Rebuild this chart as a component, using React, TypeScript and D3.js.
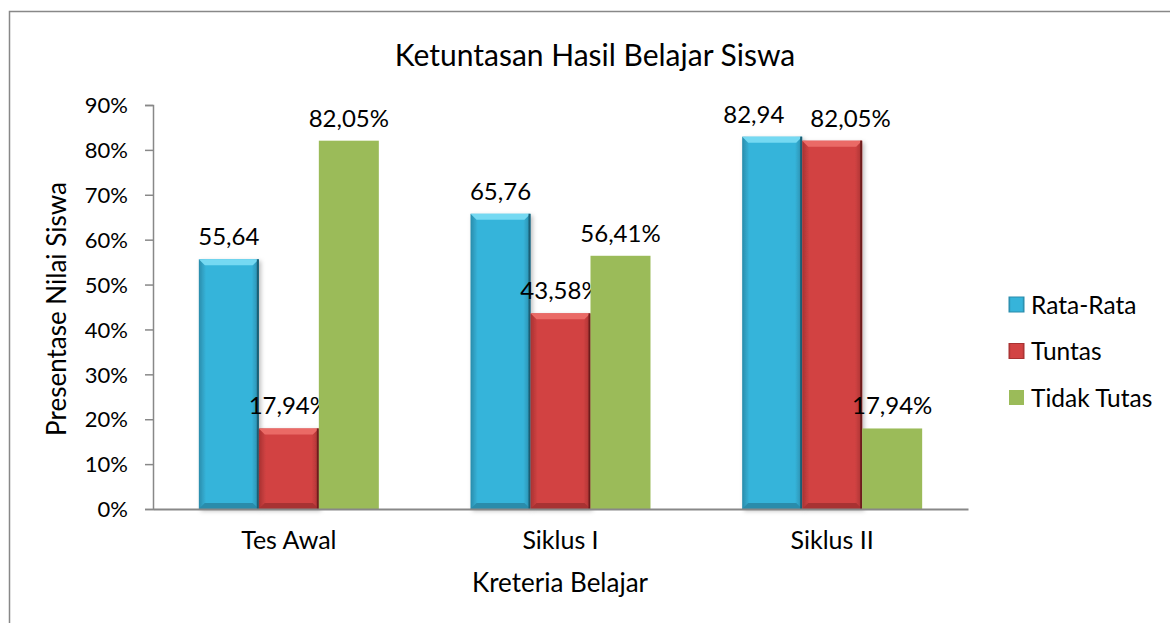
import { useEffect, useRef } from 'react';
import * as d3 from 'd3';

// Data
const kategori = ['Tes Awal', 'Siklus I', 'Siklus II'];
const seri = ['Rata-Rata', 'Tuntas', 'Tidak Tutas'];
const rataRata = [55.64, 65.76, 82.94];
const tuntas = [17.94, 43.58, 82.05];
const tidakTutas = [82.05, 56.41, 17.94];
const labelRataRata = ['55,64', '65,76', '82,94'];
const labelTuntas = ['17,94%', '43,58%', '82,05%'];
const labelTidakTutas = ['82,05%', '56,41%', '17,94%'];
const yTicks = [0, 10, 20, 30, 40, 50, 60, 70, 80, 90];

const W = 1170;
const H = 623;
const FONT = 'Lato, Calibri, sans-serif';

// warna per seri: utama, terang (bevel atas), gelap (sisi)
const warna = [
  { main: '#36b4da', light: '#74d9f2', dark: '#2a8cab', edge: '#1d5f74', bevel: true },
  { main: '#d24343', light: '#ea6a66', dark: '#a83232', edge: '#6e1f1f', bevel: true },
  { main: '#9bbb59', light: '#9bbb59', dark: '#9bbb59', edge: '#9bbb59', bevel: false },
];

export default function App() {
  const ref = useRef<SVGSVGElement>(null);

  useEffect(() => {
    const svg = d3.select(ref.current);
    svg.selectAll('*').remove();

    const margin = { top: 105, left: 153, right: 202, bottom: 114 };
    const x0 = d3.scaleBand().domain(kategori).range([margin.left, W - margin.right]).paddingInner(0).paddingOuter(0);
    const x1 = d3.scaleBand().domain(seri).range([0, x0.bandwidth()]).paddingOuter(0.764);
    const y = d3.scaleLinear().domain([0, 90]).range([H - margin.bottom, margin.top]);

    const nilai = [rataRata, tuntas, tidakTutas];
    const label = [labelRataRata, labelTuntas, labelTidakTutas];

    const defs = svg.append('defs');
    defs.append('filter').attr('id', 'bayangan').attr('x', '-20%').attr('y', '-10%').attr('width', '150%').attr('height', '130%')
      .append('feDropShadow').attr('dx', 2).attr('dy', 2).attr('stdDeviation', 2).attr('flood-color', '#000').attr('flood-opacity', 0.25);
    warna.forEach((c, i) => {
      const g = defs.append('linearGradient').attr('id', 'grad' + i).attr('x1', 0).attr('x2', 1).attr('y1', 0).attr('y2', 0);
      g.append('stop').attr('offset', '0%').attr('stop-color', c.dark);
      g.append('stop').attr('offset', '12%').attr('stop-color', c.main);
      g.append('stop').attr('offset', '88%').attr('stop-color', c.main);
      g.append('stop').attr('offset', '100%').attr('stop-color', c.dark);
    });

    // Bingkai luar
    svg.append('rect')
      .attr('x', 9.5).attr('y', 11.5).attr('width', W + 50).attr('height', H + 50)
      .attr('fill', '#fff').attr('stroke', '#888').attr('stroke-width', 1.5);

    // Judul
    svg.append('text')
      .attr('x', 595).attr('y', 66)
      .attr('text-anchor', 'middle')
      .attr('font-family', FONT).attr('font-size', 30).attr('fill', '#000')
      .text('Ketuntasan Hasil Belajar Siswa');

    // Batang
    const labelPerKategori: { node: SVGTextElement; cx: number; top: number }[][] = kategori.map(() => []);
    nilai.forEach((arr, si) => {
      const c = warna[si];
      arr.forEach((v, ci) => {
        const bx = (x0(kategori[ci]) as number) + (x1(seri[si]) as number);
        const bw = x1.bandwidth();
        const top = y(v);
        const bot = y(0);
        const g = svg.append('g');
        if (c.bevel) {
          g.attr('filter', 'url(#bayangan)');
          g.append('rect').attr('x', bx).attr('y', top).attr('width', bw).attr('height', bot - top).attr('fill', `url(#grad${si})`);
          const b = 6;
          g.append('path')
            .attr('d', `M${bx},${top}L${bx + bw},${top}L${bx + bw - b},${top + b}L${bx + b},${top + b}Z`)
            .attr('fill', c.light);
          g.append('path')
            .attr('d', `M${bx},${bot}L${bx + bw},${bot}L${bx + bw - b},${bot - b}L${bx + b},${bot - b}Z`)
            .attr('fill', c.dark);
          g.append('rect').attr('x', bx + bw - 2).attr('y', top).attr('width', 2).attr('height', bot - top).attr('fill', c.edge);
        } else {
          g.append('rect').attr('x', bx).attr('y', top).attr('width', bw).attr('height', bot - top).attr('fill', c.main);
        }
        const t = svg.append('text')
          .attr('x', bx + bw / 2).attr('y', top - 14)
          .attr('text-anchor', 'middle')
          .attr('font-family', FONT).attr('font-size', 24).attr('fill', '#000')
          .text(label[si][ci]);
        labelPerKategori[ci].push({ node: t.node() as SVGTextElement, cx: bx + bw / 2, top });
      });
    });

    // Geser label yang bertabrakan (seperti Excel)
    labelPerKategori.forEach(list => {
      for (let i = 0; i < list.length - 1; i++) {
        const a = list[i];
        const b = list[i + 1];
        if (Math.abs(a.top - b.top) > 22) continue;
        const wa = a.node.getComputedTextLength();
        const wb = b.node.getComputedTextLength();
        const need = wa / 2 + wb / 2 + 26;
        const have = b.cx - a.cx;
        if (have < need) {
          const d = (need - have) / 2;
          a.cx -= d;
          b.cx += d;
          d3.select(a.node).attr('x', a.cx);
          d3.select(b.node).attr('x', b.cx);
        }
      }
    });

    // Sumbu Y
    const yAxis = svg.append('g')
      .attr('transform', `translate(${margin.left},0)`)
      .call(d3.axisLeft(y).tickValues(yTicks).tickSize(8).tickPadding(17).tickFormat(d => `${d}%`));
    yAxis.select('.domain').attr('stroke', '#888').attr('stroke-width', 1.5);
    yAxis.selectAll('.tick line').attr('stroke', '#888').attr('stroke-width', 1.5);
    yAxis.selectAll('text').attr('font-family', FONT).attr('font-size', 22).attr('fill', '#000').attr('dy', '0.35em');

    // Sumbu X
    const xAxis = svg.append('g')
      .attr('transform', `translate(0,${y(0)})`)
      .call(d3.axisBottom(x0).tickSize(0).tickPadding(22));
    xAxis.select('.domain').attr('stroke', '#888').attr('stroke-width', 2);
    xAxis.selectAll('text').attr('font-family', FONT).attr('font-size', 25).attr('fill', '#000');

    // Judul sumbu
    svg.append('text')
      .attr('transform', `translate(66,309) rotate(-90)`)
      .attr('text-anchor', 'middle')
      .attr('font-family', FONT).attr('font-size', 26).attr('fill', '#000')
      .text('Presentase Nilai Siswa');
    svg.append('text')
      .attr('x', 560).attr('y', 592)
      .attr('text-anchor', 'middle')
      .attr('font-family', FONT).attr('font-size', 26).attr('fill', '#000')
      .text('Kreteria Belajar');

    // Legenda
    const legendY = d3.scalePoint().domain(seri).range([305, 398]);
    seri.forEach((s, i) => {
      const c = warna[i];
      const ly = legendY(s) as number;
      svg.append('rect').attr('x', 1009).attr('y', ly - 8).attr('width', 15).attr('height', 15)
        .attr('fill', c.bevel ? `url(#grad${i})` : c.main)
        .attr('stroke', c.bevel ? c.dark : 'none').attr('stroke-width', 1);
      svg.append('text')
        .attr('x', 1031).attr('y', ly)
        .attr('dy', '0.35em')
        .attr('font-family', FONT).attr('font-size', 24.5).attr('fill', '#000')
        .text(s);
    });
  }, []);

  return (
    <svg
      ref={ref}
      width={W}
      height={H}
      style={{ position: 'absolute', left: 0, top: 0, background: '#fff' }}
    />
  );
}
